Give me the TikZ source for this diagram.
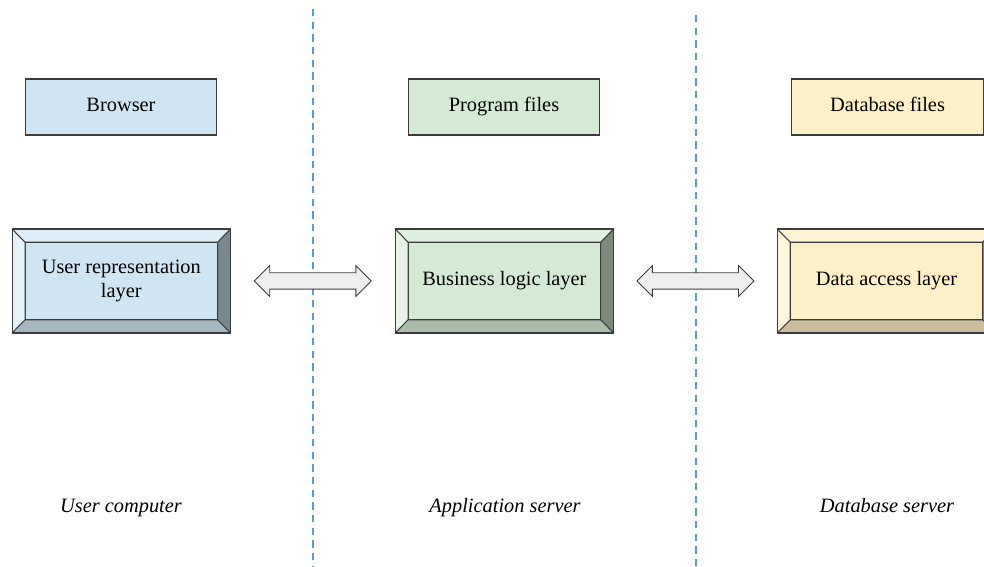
\documentclass[tikz,border=0pt]{standalone}
\usepackage{fontspec}
\setmainfont{Liberation Serif}
\usepackage{tikz}
\usetikzlibrary{calc,shapes.arrows}

\definecolor{edge}{HTML}{3C3C3C}
\definecolor{sepblue}{HTML}{5B9BD5}
\definecolor{bluemain}{HTML}{CFE5F3}
\definecolor{bluetop}{HTML}{DDEEF8}
\definecolor{blueleft}{HTML}{E4F2FA}
\definecolor{blueright}{HTML}{778890}
\definecolor{bluebottom}{HTML}{A5B8C2}
\definecolor{greenmain}{HTML}{D4EAD5}
\definecolor{greentop}{HTML}{E0F0E0}
\definecolor{greenleft}{HTML}{E7F3E7}
\definecolor{greenright}{HTML}{7A8B7C}
\definecolor{greenbottom}{HTML}{AABDAB}
\definecolor{yellowmain}{HTML}{FEF0C6}
\definecolor{yellowtop}{HTML}{FEF3D3}
\definecolor{yellowleft}{HTML}{FEF5DB}
\definecolor{yellowright}{HTML}{B0A482}
\definecolor{yellowbottom}{HTML}{C9BD9B}
\definecolor{arrowfill}{HTML}{EEEEEE}

\newcommand\fs{\fontsize{11.6}{13.6}\selectfont}

% bevel faces between outer node #1o and inner node #1
\newcommand\bevelfaces[5]{%
  \fill[#2] (#1o.north west) -- (#1o.north east) -- (#1.north east) -- (#1.north west) -- cycle;
  \fill[#3] (#1o.north west) -- (#1.north west) -- (#1.south west) -- (#1o.south west) -- cycle;
  \fill[#4] (#1o.north east) -- (#1o.south east) -- (#1.south east) -- (#1.north east) -- cycle;
  \fill[#5] (#1o.south west) -- (#1.south west) -- (#1.south east) -- (#1o.south east) -- cycle;
  \draw[draw=edge, line width=0.6pt] (#1o.north west) -- (#1.north west)
    (#1o.north east) -- (#1.north east)
    (#1o.south west) -- (#1.south west)
    (#1o.south east) -- (#1.south east)
    (#1.north west) rectangle (#1.south east);
}

\begin{document}
\begin{tikzpicture}[x=0.02cm, y=-0.02cm,
    filebox/.style={draw=edge, line width=0.6pt, minimum width=3.83cm,
      minimum height=1.12cm, inner sep=0pt, font=\fs,
      text height=1.6ex, text depth=0.45ex},
    outerbox/.style={draw=edge, line width=0.6pt, minimum width=4.35cm,
      minimum height=2.06cm, inner sep=0pt},
    innerbox/.style={draw=edge, line width=0.6pt, minimum width=3.83cm,
      minimum height=1.53cm, inner sep=0pt, align=center, font=\fs},
    link/.style={double arrow, draw=edge, line width=0.5pt, fill=arrowfill,
      inner sep=0pt, inner ysep=0.155cm, minimum height=2.34cm,
      double arrow head extend=0.145cm},
    tier/.style={font=\fs\itshape, text height=1.6ex, text depth=0.45ex},
    sep/.style={draw=sepblue, line width=0.8pt, dash pattern=on 4.2pt off 3pt}]

  \clip (0,0) rectangle (984,567);
  \useasboundingbox (0,0) rectangle (984,567);

  % Separators between tiers
  \draw[sep] (313,9) -- (313,567);
  \draw[sep] (696,15) -- (696,567);

  % File boxes
  \node[filebox, fill=bluemain] (browser) at (121,107) {Browser};
  \node[filebox, fill=greenmain] (program) at (504,107) {Program files};
  \node[filebox, fill=yellowmain] (database) at (887.5,107) {Database files};

  % Layer boxes
  \node[outerbox] (usero) at (121.3,281) {};
  \node[outerbox] (bizo) at (504.4,281) {};
  \node[outerbox] (datao) at (886.5,281) {};
  \node[innerbox, fill=bluemain] (user) at (usero) {User representation\\layer};
  \node[innerbox, fill=greenmain] (biz) at (bizo) {Business logic layer};
  \node[innerbox, fill=yellowmain] (data) at (datao) {Data access layer};
  \bevelfaces{user}{bluetop}{blueleft}{blueright}{bluebottom}
  \bevelfaces{biz}{greentop}{greenleft}{greenright}{greenbottom}
  \bevelfaces{data}{yellowtop}{yellowleft}{yellowright}{yellowbottom}
  \draw[draw=edge, line width=0.6pt] (usero.north west) rectangle (usero.south east)
    (bizo.north west) rectangle (bizo.south east)
    (datao.north west) rectangle (datao.south east);

  % Links between layers
  \node[link] (link1) at ($(usero.east)!0.5!(bizo.west)$) {};
  \node[link] (link2) at ($(bizo.east)!0.5!(datao.west)$) {};

  % Tier labels
  \node[tier] (usercomp) at (121,508) {User computer};
  \node[tier] (appserver) at (505,508) {Application server};
  \node[tier] (dbserver) at (887,508) {Database server};
\end{tikzpicture}
\end{document}
